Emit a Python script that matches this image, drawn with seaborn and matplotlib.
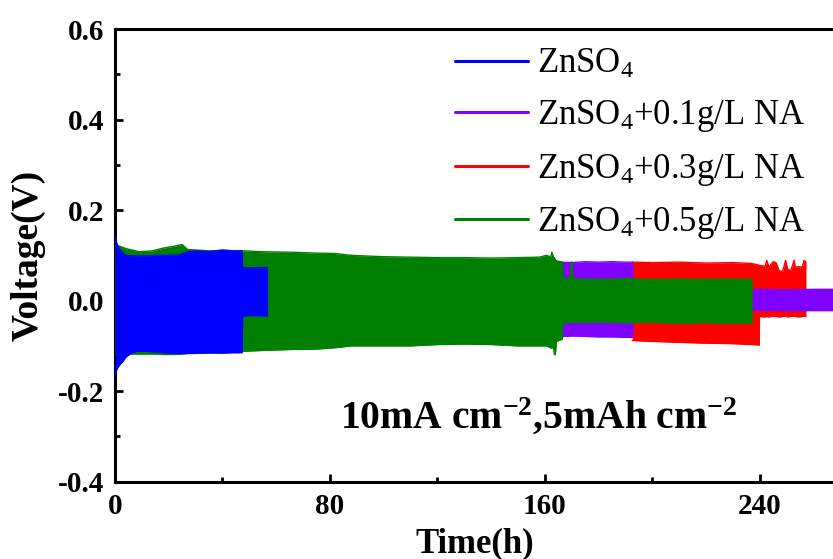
import matplotlib
matplotlib.use("Agg")
import matplotlib.pyplot as plt
from matplotlib.lines import Line2D
from matplotlib.ticker import FixedLocator, FixedFormatter
import seaborn as sns
import pandas as pd

# ---------------- data (envelopes) ----------------
blue_t = [0, 0.5, 1, 2, 3, 4, 6, 8, 12, 16, 20, 24, 27, 30, 35, 40, 44, 47.3, 47.5, 50, 53, 56.8]
blue_hi = [0.143, 0.13, 0.12, 0.112, 0.105, 0.100, 0.099, 0.099, 0.099, 0.100, 0.100, 0.101, 0.108,
           0.110, 0.108, 0.112, 0.110, 0.110, 0.073, 0.072, 0.073, 0.073]
blue_lo = [-0.165, -0.155, -0.148, -0.140, -0.134, -0.125, -0.116, -0.112, -0.112, -0.114, -0.116,
           -0.117, -0.116, -0.116, -0.115, -0.116, -0.115, -0.115, -0.034, -0.033, -0.033, -0.034]

green_t = [0, 1, 4, 9, 14, 18, 22, 25, 27, 35, 47.5, 55, 65, 75, 82, 88, 100, 110, 120, 130, 140,
           150, 158, 160.5, 161.5, 162.3, 162.6, 163.2, 163.6, 163.9, 164.3, 166.5, 166.6, 169.5,
           169.8, 170.1, 170.4, 172, 180, 190, 200, 210, 220, 230, 237.2]
green_hi = [0.12, 0.122, 0.115, 0.108, 0.11, 0.116, 0.12, 0.124, 0.113, 0.11, 0.11, 0.108, 0.107,
            0.105, 0.104, 0.100, 0.097, 0.096, 0.095, 0.095, 0.094, 0.095, 0.096, 0.1, 0.098, 0.098,
            0.107, 0.096, 0.094, 0.09, 0.088, 0.085, 0.05, 0.05, 0.085, 0.085, 0.05, 0.048, 0.047,
            0.049, 0.047, 0.048, 0.047, 0.048, 0.047]
green_lo = [-0.12, -0.12, -0.118, -0.118, -0.118, -0.119, -0.119, -0.118, -0.117, -0.116, -0.112,
            -0.11, -0.108, -0.107, -0.104, -0.1, -0.1, -0.1, -0.097, -0.096, -0.097, -0.1, -0.1,
            -0.1, -0.102, -0.105, -0.104, -0.104, -0.119, -0.119, -0.09, -0.085, -0.05, -0.048,
            -0.048, -0.05, -0.048, -0.048, -0.047, -0.049, -0.048, -0.05, -0.049, -0.05, -0.05]

purple_t = [158, 165, 170, 175, 180, 185, 190, 192.7, 192.8, 200, 210, 220, 230, 240, 250, 260, 268]
purple_hi = [0.085, 0.085, 0.084, 0.086, 0.085, 0.086, 0.085, 0.085, 0.025, 0.025, 0.024, 0.025,
             0.024, 0.025, 0.024, 0.025, 0.025]
purple_lo = [-0.08, -0.08, -0.078, -0.079, -0.08, -0.08, -0.081, -0.081, -0.022, -0.022, -0.021,
             -0.022, -0.022, -0.021, -0.022, -0.022, -0.022]

red_t = [192.5, 200, 210, 220, 230, 237, 239.8, 239.9, 242, 242.6, 243.4, 245, 246, 247.2, 248.5,
         249.6, 250.3, 251.5, 252.8, 253.2, 254.5, 255.8, 256.5, 257.2]
red_hi = [0.085, 0.084, 0.085, 0.083, 0.084, 0.082, 0.078, 0.078, 0.076, 0.089, 0.074, 0.086,
          0.084, 0.066, 0.064, 0.089, 0.07, 0.066, 0.089, 0.074, 0.075, 0.074, 0.089, 0.085]
red_lo = [-0.088, -0.09, -0.092, -0.094, -0.095, -0.097, -0.098, -0.035, -0.036, -0.035, -0.036,
          -0.034, -0.035, -0.036, -0.035, -0.034, -0.036, -0.035, -0.034, -0.035, -0.036, -0.035,
          -0.034, -0.035]

labels = ['ZnSO$_4$', 'ZnSO$_4$+0.1g/L NA', 'ZnSO$_4$+0.3g/L NA', 'ZnSO$_4$+0.5g/L NA']
colors = ['#0000FF', '#8000FF', '#FF0000', '#008000']

y_ticks = [0.6, 0.4, 0.2, 0.0, -0.2, -0.4]
y_ticklabels = ['0.6', '0.4', '0.2', '0.0', '-0.2', '-0.4']
x_ticks = [0, 80, 160, 240]
x_ticklabels = ['0', '80', '160', '240']

# ---------------- style ----------------
sns.set_theme(style='ticks')
plt.rcParams['font.family'] = ['Liberation Serif', 'DejaVu Serif']
plt.rcParams['mathtext.fontset'] = 'custom'
plt.rcParams['mathtext.rm'] = 'Liberation Serif'
plt.rcParams['mathtext.it'] = 'Liberation Serif:italic'
plt.rcParams['mathtext.bf'] = 'Liberation Serif:bold'
plt.rcParams['axes.unicode_minus'] = False
for k in ['text.color', 'axes.labelcolor', 'xtick.color', 'ytick.color', 'axes.edgecolor']:
    plt.rcParams[k] = 'black'

W, H = 833, 559
fig = plt.figure(figsize=(W / 100, H / 100), dpi=100)
ax = fig.add_axes([115 / W, 77.3 / H, 720 / W, 452.7 / H])

series = [
    (blue_t, blue_hi, blue_lo, colors[0], 4),
    (purple_t, purple_hi, purple_lo, colors[1], 2),
    (red_t, red_hi, red_lo, colors[2], 1),
    (green_t, green_hi, green_lo, colors[3], 3),
]
for t, hi, lo, c, z in series:
    df = pd.DataFrame({'t': t, 'hi': hi, 'lo': lo})
    ax.fill_between(df['t'], df['lo'], df['hi'], color=c, lw=0, zorder=z)
    sns.lineplot(data=df, x='t', y='hi', color=c, lw=1.0, estimator=None, sort=False,
                 ax=ax, zorder=z)
    sns.lineplot(data=df, x='t', y='lo', color=c, lw=1.0, estimator=None, sort=False,
                 ax=ax, zorder=z)

ax.set_xlim(0, 268)
ax.set_ylim(-0.4, 0.6)

ax.xaxis.set_major_locator(FixedLocator(x_ticks))
ax.xaxis.set_major_formatter(FixedFormatter(x_ticklabels))
ax.xaxis.set_minor_locator(FixedLocator([40, 120, 200]))
ax.yaxis.set_major_locator(FixedLocator(y_ticks))
ax.yaxis.set_major_formatter(FixedFormatter(y_ticklabels))
ax.yaxis.set_minor_locator(FixedLocator([0.5, 0.3, 0.1, -0.1, -0.3]))

for s in ax.spines.values():
    s.set_linewidth(2.2)
    s.set_color('black')
ax.tick_params(which='both', direction='in', top=False, right=False, width=2.0, color='black')
ax.tick_params(which='major', length=6, pad=8, labelsize=21)
ax.tick_params(which='minor', length=3.5)
for lab in ax.get_xticklabels() + ax.get_yticklabels():
    lab.set_fontweight('bold')

ax.set_xlabel('Time(h)', fontsize=25, fontweight='bold', labelpad=5.5)
ax.set_ylabel('Voltage(V)', fontsize=27, fontweight='bold', labelpad=8.5)

handles = [Line2D([], [], color=c, lw=2.2) for c in colors]
fig.legend(handles, labels, loc='upper left', bbox_to_anchor=(455 / W, 1 - 48 / H),
           frameon=False, fontsize=25, handlelength=2.1, handletextpad=0.26,
           labelspacing=0.5, borderpad=0, borderaxespad=0)

fig.text(538.5 / W, 1 - 428 / H, '10mA cm$^{\\mathbf{-2}}$,5mAh cm$^{\\mathbf{-2}}$',
         ha='center', va='baseline', fontsize=28.5, fontweight='bold')

fig.savefig('out.png', dpi=100)
